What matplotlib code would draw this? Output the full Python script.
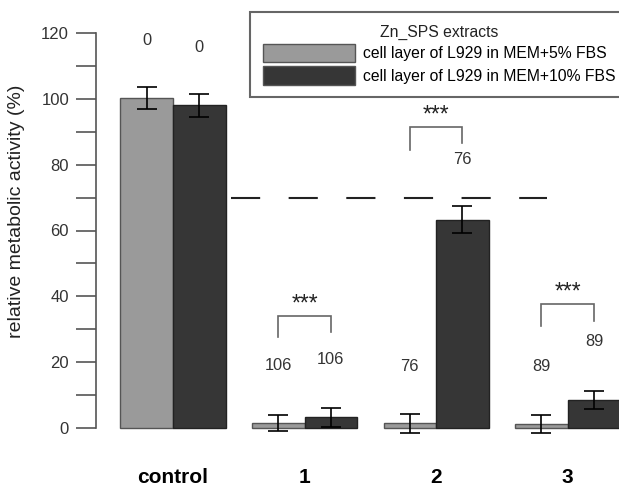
"""Zn_SPS extracts: relative metabolic activity of L929 cell layers."""
import matplotlib
matplotlib.use("Agg")
import matplotlib.pyplot as plt
import matplotlib.patches as mpatches
import numpy as np

plt.rcParams["font.family"] = ["Liberation Sans", "DejaVu Sans"]
plt.rcParams["lines.scale_dashes"] = False

# ── data ────────────────────────────────────────────────────────────────────
groups = ["control", "1", "2", "3"]
series = ["cell layer of L929 in MEM+5% FBS", "cell layer of L929 in MEM+10% FBS"]
mean_5 = [100.3, 1.6, 1.4, 1.2]
mean_10 = [98.0, 3.2, 63.3, 8.5]
err_5 = [3.4, 2.4, 3.0, 2.8]
err_10 = [3.5, 2.8, 4.0, 2.6]
counts_5 = ["0", "106", "76", "89"]
counts_10 = ["0", "106", "76", "89"]
count_y_5 = [117.6, 19.0, 18.8, 18.6]
count_y_10 = [115.5, 20.7, 81.5, 26.2]
# significance brackets: group index, left leg bottom, top, right leg bottom
sig_groups = [1, 2, 3]
sig_left = [27.7, 84.5, 31.0]
sig_top = [34.1, 91.5, 37.7]
sig_right = [29.3, 86.6, 32.5]
threshold = 70
threshold_span = (0.44, 2.84)

colors = ["#9a9a9a", "#363636"]
w = 0.40

fig = plt.figure(figsize=(6.19, 4.87), dpi=100)
ax = fig.add_axes([96 / 619, (487 - 441.2) / 487, 525 / 619, (441.2 - 19.8) / 487])

x = np.arange(len(groups))
ax.bar(x - w / 2, mean_5, w, color=colors[0], edgecolor="#555555", lw=1.0, zorder=2)
ax.bar(x + w / 2, mean_10, w, color=colors[1], edgecolor="#222222", lw=1.0, zorder=2)
ax.errorbar(x - w / 2, mean_5, yerr=err_5, fmt="none", ecolor="black",
            elinewidth=1.2, capsize=7.5, capthick=1.2, zorder=3)
ax.errorbar(x + w / 2, mean_10, yerr=err_10, fmt="none", ecolor="black",
            elinewidth=1.2, capsize=7.5, capthick=1.2, zorder=3)

for i in range(len(groups)):
    ax.text(x[i] - w / 2, count_y_5[i], counts_5[i], ha="center", va="center",
            fontsize=11.8, color="#333333")
    ax.text(x[i] + w / 2, count_y_10[i], counts_10[i], ha="center", va="center",
            fontsize=11.8, color="#333333")

for g, yl, yt, yr in zip(sig_groups, sig_left, sig_top, sig_right):
    xl, xr = g - w / 2, g + w / 2
    ax.plot([xl, xl, xr, xr], [yl, yt, yt, yr], color="#666666", lw=1.2,
            solid_joinstyle="miter", zorder=3)
    ax.text(g, yt + 0.2, "***", ha="center", va="bottom", fontsize=16.5,
            color="#222222")

ax.hlines(threshold, threshold_span[0], threshold_span[1], colors="#222222",
          lw=1.5, linestyles=(0, (21, 20.5)), zorder=1)

# axes styling (R base-graphics look)
ax.set_xlim(-0.585, 3.405)
ax.set_ylim(-4, 124)
for s in ["top", "right", "bottom"]:
    ax.spines[s].set_visible(False)
ax.spines["left"].set_bounds(0, 120)
ax.spines["left"].set_color("#555555")
ax.spines["left"].set_linewidth(1.2)
ax.set_yticks(np.arange(0, 121, 20))
ax.set_yticks(np.arange(10, 120, 20), minor=True)
ax.tick_params(axis="y", which="both", length=14.4, width=1.2, color="#555555",
               labelsize=12, labelcolor="#333333", pad=5)
ax.set_ylabel("relative metabolic activity (%)", fontsize=14, color="#222222")
ax.yaxis.set_label_coords(-0.135, 0.546)
ax.set_xticks(x)
ax.set_xticklabels(groups, fontsize=15, fontweight="bold")
ax.tick_params(axis="x", length=0, pad=19)

handles = [mpatches.Patch(facecolor=c, edgecolor="#555555", lw=1.0) for c in colors]
leg = fig.legend(handles, series, title="Zn_SPS extracts", loc="upper left",
                 bbox_to_anchor=(250 / 619, 1 - 12 / 487), borderaxespad=0,
                 fontsize=11.3, title_fontsize=11.3, handlelength=5.9,
                 handleheight=1.45, labelspacing=0.25, handletextpad=0.5,
                 borderpad=0.8, fancybox=False, framealpha=1)
leg.get_frame().set_edgecolor("#666666")
leg.get_frame().set_linewidth(1.5)
leg.get_title().set_color("#222222")

fig.savefig("out.png", dpi=100)
